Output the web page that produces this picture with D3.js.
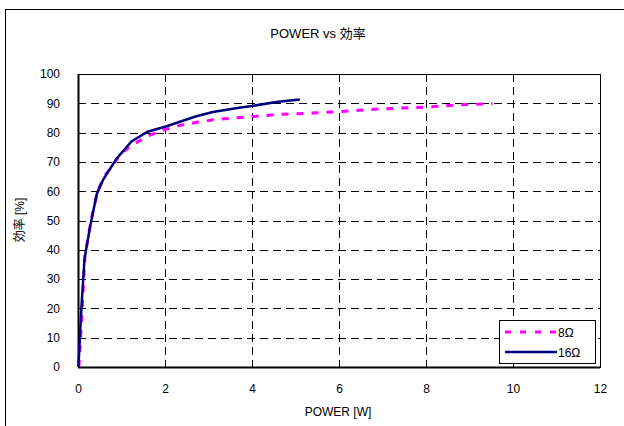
<!DOCTYPE html>
<html><head><meta charset="utf-8">
<script src="https://cdn.jsdelivr.net/npm/d3@7"></script>
<style>body{margin:0;background:#fff}svg{display:block}text{font-family:"Liberation Sans","Noto Sans CJK JP",sans-serif;fill:#000}</style>
</head><body><svg id="c" width="624" height="426"></svg>
<script>
const title = "POWER vs 効率";
const xTitle = "POWER [W]";
const yTitle = "効率 [%]";
const xTicks = [0, 2, 4, 6, 8, 10, 12];
const yTicks = [0, 10, 20, 30, 40, 50, 60, 70, 80, 90, 100];
const seriesNames = ["8Ω", "16Ω"];
const power8 = [0.02,0.06,0.1,0.16,0.3,0.45,0.6,1.0,1.27,1.63,2.0,2.38,2.73,3.19,3.88,4.6,5.29,6.03,6.97,8.05,8.75,9.53];
const eff8   = [0,10,21,38,50,60,65,73,76,79,81,82.6,83.5,84.5,85.3,86.2,86.6,87.2,88.1,88.7,89.5,89.9];
const power16 = [0.01,0.05,0.09,0.15,0.28,0.43,0.58,0.88,1.23,1.6,2.02,2.7,3.1,3.7,4.0,4.6,5.1];
const eff16   = [0,12,23,37,48,59,64,71,77,80.3,82.1,85.5,87,88.5,89.1,90.5,91.3];

const svg = d3.select("#c");
const L = 78, R = 600, T = 74, B = 367;
const x = d3.scaleLinear().domain([0, 12]).range([L, R]);
const y = d3.scaleLinear().domain([0, 100]).range([B, T]);

svg.append("rect").attr("x",5.5).attr("y",9.5).attr("width",640).attr("height",440)
  .attr("fill","none").attr("stroke","#000").attr("stroke-width",1);

svg.append("text").attr("x",318).attr("y",38).attr("text-anchor","middle")
  .attr("font-size",13).text(title);

const g = svg.append("g");
g.selectAll(".vg").data(xTicks.filter(d=>d>0&&d<12)).enter().append("line")
  .attr("x1",d=>Math.round(x(d))+0.5).attr("x2",d=>Math.round(x(d))+0.5)
  .attr("y1",T).attr("y2",B).attr("stroke","#000").attr("stroke-dasharray","8,5");
g.selectAll(".hg").data(yTicks.filter(d=>d>0&&d<100)).enter().append("line")
  .attr("y1",d=>Math.round(y(d))+0.5).attr("y2",d=>Math.round(y(d))+0.5)
  .attr("x1",L).attr("x2",R).attr("stroke","#000").attr("stroke-dasharray","8,5");

svg.append("rect").attr("x",L+0.5).attr("y",T+0.5).attr("width",R-L).attr("height",B-T)
  .attr("fill","none").attr("stroke","#000").attr("stroke-width",1);
svg.append("line").attr("x1",L).attr("x2",R).attr("y1",B+0.5).attr("y2",B+0.5).attr("stroke","#000").attr("stroke-width",2);
svg.append("line").attr("x1",L+0.5).attr("x2",L+0.5).attr("y1",T).attr("y2",B).attr("stroke","#000").attr("stroke-width",2);

const xa = svg.append("g").attr("transform",`translate(0,${B})`)
  .call(d3.axisBottom(x).tickValues(xTicks).tickSize(0).tickPadding(17).tickFormat(d3.format("d")));
xa.select(".domain").remove();
xa.selectAll("text").attr("font-size",12).style("font-family","'Liberation Sans', sans-serif");
const ya = svg.append("g").attr("transform",`translate(${L},0)`)
  .call(d3.axisLeft(y).tickValues(yTicks).tickSize(0).tickPadding(18).tickFormat(d3.format("d")));
ya.select(".domain").remove();
ya.selectAll("text").attr("font-size",12).style("font-family","'Liberation Sans', sans-serif");

svg.append("text").attr("x",338).attr("y",416).attr("text-anchor","middle").attr("font-size",12).text(xTitle);
svg.append("text").attr("transform","translate(24,220) rotate(-90)").attr("text-anchor","middle").attr("font-size",12).text(yTitle);

const line = d3.line().x(d=>x(d[0])).y(d=>y(d[1]));
const d8 = power8.map((p,i)=>[p,eff8[i]]);
const d16 = power16.map((p,i)=>[p,eff16[i]]);
svg.append("path").datum(d8).attr("d",line).attr("fill","none").attr("stroke","#ff00ff")
  .attr("stroke-width",3).attr("stroke-dasharray","7,8");
svg.append("path").datum(d16).attr("d",line).attr("fill","none").attr("stroke","#000080")
  .attr("stroke-width",2.5);

const lg = svg.append("g");
lg.append("rect").attr("x",499.5).attr("y",320.5).attr("width",96).attr("height",43).attr("fill","#fff").attr("stroke","#000");
lg.append("line").attr("x1",505).attr("x2",556).attr("y1",332).attr("y2",332).attr("stroke","#ff00ff").attr("stroke-width",3).attr("stroke-dasharray","6,9");
lg.append("line").attr("x1",505).attr("x2",557).attr("y1",352).attr("y2",352).attr("stroke","#000080").attr("stroke-width",2.5);
lg.append("text").attr("x",558).attr("y",337).attr("font-size",12).text(seriesNames[0]);
lg.append("text").attr("x",558).attr("y",357).attr("font-size",12).text(seriesNames[1]);
</script></body></html>
